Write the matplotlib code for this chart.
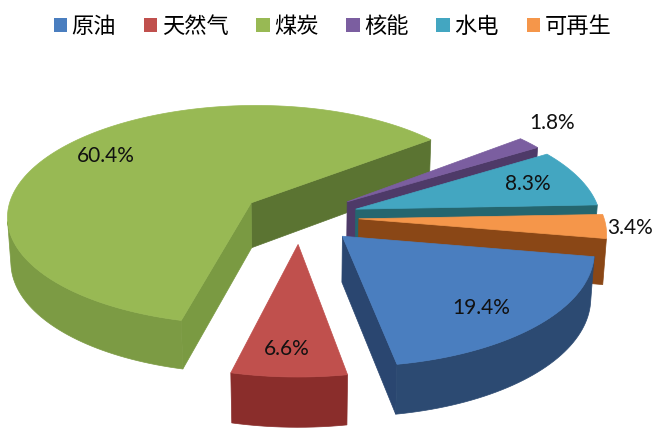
import numpy as np
import matplotlib
matplotlib.use('Agg')
import matplotlib.pyplot as plt
from matplotlib.patches import Polygon, Patch

# data
labels = ['原油', '天然气', '煤炭', '核能', '水电', '可再生']
shares = [19.4, 6.6, 60.4, 1.8, 8.3, 3.4]
explode = [0.24, 0.24, 0.24, 0.24, 0.24, 0.24]

# styles
top_colors = ['#4A7EBF', '#C0504D', '#98B954', '#7B5EA0', '#43A6C1', '#F5964A']
outer_colors = ['#2C4A72', '#8A2D2B', '#7C9B44', '#53406E', '#2B7285', '#9A521C']
cut_hi_colors = ['#2A4670', '#7F2927', '#7A9A42', '#4E3A68', '#25666F', '#8A4716']
cut_lo_colors = ['#2A4670', '#7F2927', '#5B7432', '#4E3A68', '#25666F', '#8A4716']
label_r = [0.77, 0.81, 0.79, 1.23, 0.77, 1.095]
label_da = [-3.7, -1, -3, 4.7, 0.9, -0.5]
draw_order = [2, 3, 4, 5, 0, 1]

plt.rcParams['font.family'] = ['Noto Sans CJK SC', 'DejaVu Sans']

# view of the 3d pie (pixels, radius units)
S = 245.0
alpha = np.radians(27)
D = 8.0
H = 0.21
cx, cy = 300, 217
start = -10.0
cam = np.array([0.0, -D * np.cos(alpha), D * np.sin(alpha)])


def project(p):
    p = np.atleast_2d(p)
    u, v, h = p[:, 0], p[:, 1], p[:, 2]
    depth = D + v * np.cos(alpha) - h * np.sin(alpha)
    k = S * D / depth
    return np.column_stack([cx + u * k, cy - (v * np.sin(alpha) + h * np.cos(alpha)) * k])


def visible(quad, normal):
    c = quad.mean(axis=0)
    return np.dot(normal, cam - c) > 0


fig = plt.figure(figsize=(6.65, 4.42), dpi=100)
ax = fig.add_axes([0, 0, 1, 1])
ax.set_xlim(0, 665)
ax.set_ylim(442, 0)
ax.axis('off')

total = sum(shares)
widths = [s / total * 360 for s in shares]
bounds = start - np.concatenate([[0], np.cumsum(widths)])

for i in draw_order:
    a_hi, a_lo = bounds[i], bounds[i + 1]
    mid = np.radians((a_hi + a_lo) / 2)
    off = np.array([explode[i] * np.cos(mid), explode[i] * np.sin(mid), 0.0])
    t = np.radians(np.linspace(a_hi, a_lo, max(4, int(widths[i] / 1.5))))
    rim = np.column_stack([np.cos(t), np.sin(t), np.zeros_like(t)]) + off
    down = np.array([0, 0, -H])

    faces = []
    # radial cut walls
    for a, sgn, col in [(a_hi, 1, cut_hi_colors[i]), (a_lo, -1, cut_lo_colors[i])]:
        ar = np.radians(a)
        edge = off + np.array([np.cos(ar), np.sin(ar), 0])
        quad = np.array([off, edge, edge + down, off + down])
        n = np.array([np.cos(ar + sgn * np.pi / 2), np.sin(ar + sgn * np.pi / 2), 0])
        if visible(quad, n):
            faces.append((quad, col))
    # outer curved wall, visible runs only
    vis = [visible(np.array([rim[j], rim[j + 1], rim[j + 1] + down, rim[j] + down]),
                   np.array([np.cos((t[j] + t[j + 1]) / 2), np.sin((t[j] + t[j + 1]) / 2), 0]))
           for j in range(len(t) - 1)]
    j = 0
    while j < len(vis):
        if vis[j]:
            k = j
            while k < len(vis) and vis[k]:
                k += 1
            seg = rim[j:k + 1]
            quad = np.vstack([seg, (seg + down)[::-1]])
            faces.append((quad, outer_colors[i]))
            j = k
        else:
            j += 1

    faces.sort(key=lambda f: -(f[0][:, 1].mean()))
    for quad, col in faces:
        ax.add_patch(Polygon(project(quad), closed=True, facecolor=col,
                             edgecolor=col, linewidth=0.5))
    top = np.vstack([off, rim])
    ax.add_patch(Polygon(project(top), closed=True, facecolor=top_colors[i],
                         edgecolor=top_colors[i], linewidth=0.5))

# value labels
for i in range(len(shares)):
    mid = np.radians((bounds[i] + bounds[i + 1]) / 2)
    a = mid + np.radians(label_da[i])
    p = np.array([explode[i] * np.cos(mid) + label_r[i] * np.cos(a),
                  explode[i] * np.sin(mid) + label_r[i] * np.sin(a), 0])
    x, y = project(p)[0]
    ax.text(x, y, f'{shares[i]:.1f}%', ha='center', va='center',
            fontsize=15, family='Lato', color='#111111')

handles = [Patch(facecolor=c, edgecolor='none') for c in top_colors]
fig.legend(handles, labels, loc='upper center', bbox_to_anchor=(0.5, 1.012),
           ncol=6, frameon=False, fontsize=16, handlelength=0.6, handleheight=0.6,
           handletextpad=0.2, columnspacing=1.25)

fig.savefig('out.png', dpi=100)
